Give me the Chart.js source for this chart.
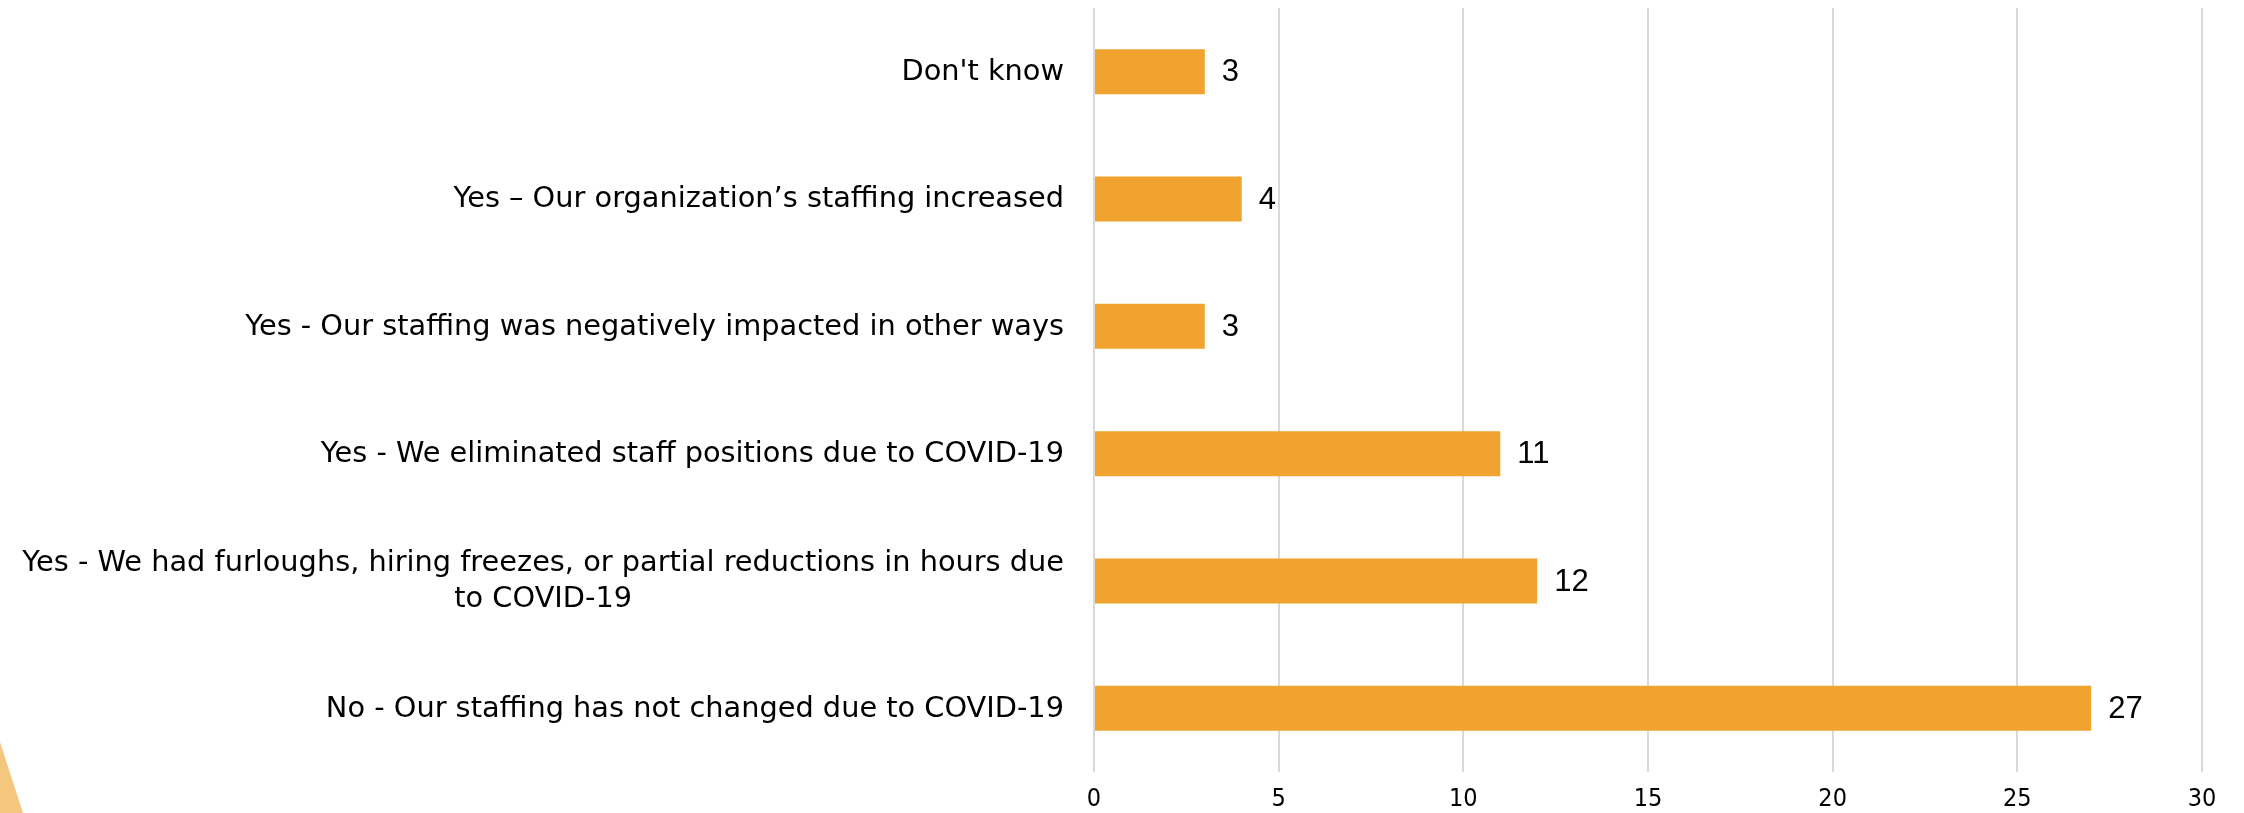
<!DOCTYPE html>
<html>
<head>
<meta charset="utf-8">
<script src="https://cdn.jsdelivr.net/npm/chart.js@4/dist/chart.umd.min.js"></script>
<style>
  html, body { margin: 0; padding: 0; background: #ffffff; }
  #wrap { width: 2244px; height: 813px; position: relative; }
  canvas { display: block; }
</style>
</head>
<body>
<div id="wrap"><canvas id="c" width="2244" height="813"></canvas></div>
<script>
// ---- Data ----
const categories = [
  "Don't know",
  "Yes \u2013 Our organization\u2019s staffing increased",
  "Yes - Our staffing was negatively impacted in other ways",
  "Yes - We eliminated staff positions due to COVID-19",
  ["Yes - We had furloughs, hiring freezes, or partial reductions in hours due", "to COVID-19"],
  "No - Our staffing has not changed due to COVID-19"
];
const responses = [3, 4, 3, 11, 12, 27];
const xTickMin = 0;
const xTickMax = 30;
const xTickStep = 5;

// ---- Styles ----
const BAR_COLOR = '#F0A32F';
const GRID_COLOR = '#D9D9D9';
const CAT_FONT = '28.8px "DejaVu Sans", sans-serif';
const VAL_FONT = '31px "Liberation Sans", Arial, sans-serif';

const decorPlugin = {
  id: 'decor',
  beforeDraw(chart) {
    const ctx = chart.ctx;
    ctx.save();
    ctx.fillStyle = '#FFFFFF';
    ctx.fillRect(0, 0, chart.width, chart.height);
    ctx.fillStyle = '#F5C77E';
    ctx.beginPath();
    ctx.moveTo(0, 742);
    ctx.lineTo(23, 813);
    ctx.lineTo(0, 813);
    ctx.closePath();
    ctx.fill();
    ctx.restore();
  }
};

const catLabelPlugin = {
  id: 'catLabels',
  afterDraw(chart) {
    const ctx = chart.ctx;
    const yScale = chart.scales.y;
    const rightEdge = chart.chartArea.left - 30;
    const lineH = 36;
    ctx.save();
    ctx.font = CAT_FONT;
    ctx.fillStyle = '#000000';
    ctx.textAlign = 'center';
    ctx.textBaseline = 'middle';
    categories.forEach((lab, i) => {
      const lines = Array.isArray(lab) ? lab : [lab];
      const w = Math.max(...lines.map(l => ctx.measureText(l).width));
      const cx = rightEdge - w / 2;
      const cy = yScale.getPixelForTick(i);
      const y0 = cy - (lines.length - 1) * lineH / 2;
      lines.forEach((l, j) => ctx.fillText(l, cx, y0 + j * lineH + 1));
    });
    ctx.restore();
  }
};

const valueLabelPlugin = {
  id: 'valueLabels',
  afterDatasetsDraw(chart) {
    const ctx = chart.ctx;
    const meta = chart.getDatasetMeta(0);
    ctx.save();
    ctx.font = VAL_FONT;
    ctx.fillStyle = '#000000';
    ctx.textAlign = 'left';
    ctx.textBaseline = 'middle';
    meta.data.forEach((bar, i) => {
      ctx.fillText(String(responses[i]), bar.x + 17, bar.y + 1);
    });
    ctx.restore();
  }
};

new Chart(document.getElementById('c'), {
  type: 'bar',
  data: {
    labels: categories,
    datasets: [{
      data: responses,
      backgroundColor: BAR_COLOR,
      borderWidth: 0,
      barPercentage: 0.354,
      categoryPercentage: 1.0
    }]
  },
  options: {
    indexAxis: 'y',
    responsive: false,
    animation: false,
    devicePixelRatio: 1,
    layout: { padding: { top: 8, right: 42, bottom: 0, left: 0 } },
    plugins: {
      legend: { display: false },
      tooltip: { enabled: false },
      title: { display: false }
    },
    scales: {
      x: {
        type: 'linear',
        position: 'bottom',
        min: xTickMin,
        max: xTickMax,
        ticks: {
          stepSize: xTickStep,
          color: '#000000',
          padding: 12,
          font: { family: '"Liberation Sans Narrow", "DejaVu Sans Condensed", sans-serif', size: 25 }
        },
        grid: { color: GRID_COLOR, lineWidth: 2, drawTicks: false },
        border: { display: false },
        afterFit(scale) { scale.height = 41; }
      },
      y: {
        type: 'category',
        position: 'left',
        ticks: { display: false },
        grid: { display: false, drawTicks: false },
        border: { display: false },
        afterFit(scale) { scale.width = 1094; }
      }
    }
  },
  plugins: [decorPlugin, catLabelPlugin, valueLabelPlugin]
});
</script>
</body>
</html>
